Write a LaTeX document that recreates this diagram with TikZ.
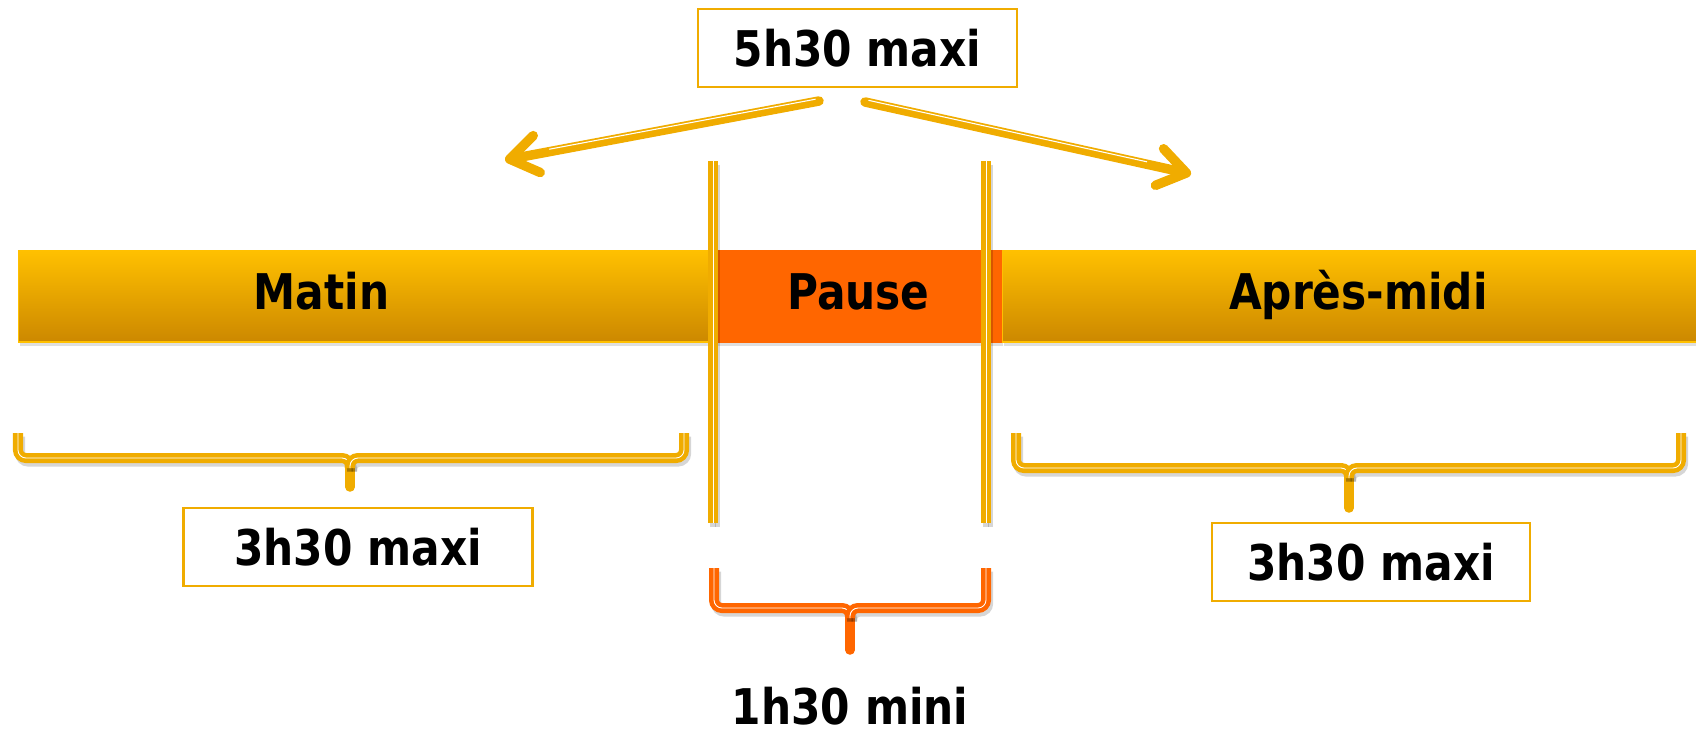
\documentclass[tikz,border=0pt]{standalone}
\usepackage{fontspec}
\newfontfamily\labfont[FakeStretch=0.86]{DejaVu Sans Bold}
\usepackage{tikz}
\usetikzlibrary{arrows.meta,positioning,shadows}
\usepackage{xcolor}
\definecolor{tlgold}{RGB}{240,172,0}
\definecolor{tltop}{RGB}{255,192,0}
\definecolor{tlbottom}{RGB}{204,136,0}
\definecolor{tlorange}{RGB}{255,102,0}
\tikzstyle{lineshadow} = [preaction={draw=black, opacity=0.16, transform canvas={shift={(1.2pt,-2pt)}}}]
\tikzstyle{dblshadow} = [preaction={draw=black, double=black, opacity=0.16, transform canvas={shift={(1.2pt,-2pt)}}}]
\tikzstyle{barseg} = [rectangle, minimum height=1.82cm, inner sep=0pt, draw=tltop, line width=0.6pt, top color=tltop, bottom color=tlbottom, drop shadow={opacity=0.25, shadow xshift=1pt, shadow yshift=-2.5pt}]
\tikzstyle{bartext} = [inner sep=0pt, anchor=base]
\tikzstyle{timebox} = [rectangle, draw=tlgold, line width=1.2pt, fill=white, minimum height=1.56cm, inner sep=0pt]
\tikzstyle{bigarrow} = [lineshadow, draw=tlgold, line width=5.4pt, line cap=round, -{Straight Barb[length=0.55cm, width=0.75cm, line cap=round, line join=round]}]
\tikzstyle{shine} = [draw=white, line width=0.6pt, transform canvas={yshift=1.4pt}]
\tikzstyle{divline} = [dblshadow, draw=tlgold, double=white, double distance=0.5pt, line width=2.6pt]
\tikzstyle{brace} = [dblshadow, draw=tlgold, double=white, double distance=0.5pt, line width=2.6pt, rounded corners=0.16cm]
\tikzstyle{bracetip} = [lineshadow, draw=tlgold, line width=5.4pt, line cap=round]

\begin{document}
\begin{tikzpicture}[x=0.02cm, y=-0.02cm, node distance=0pt, font=\labfont\fontsize{28}{30}\selectfont]
\useasboundingbox (0,0) rectangle (1696,734);

\node[barseg, minimum width=13.88cm, anchor=west] (matin) at (18,296.5) {};
\node[barseg, minimum width=5.76cm, right=0pt of matin, top color=tlorange, bottom color=tlorange, draw=tlorange] (pause) {};
\node[barseg, minimum width=13.92cm, right=0pt of pause] (apres) {};

\node[bartext] (matintxt) at ([xshift=-0.88cm, yshift=-0.25cm]matin.center) {Matin};
\node[bartext] (pausetxt) at ([xshift=0.02cm, yshift=-0.25cm]pause.center) {Pause};
\node[bartext] (aprestxt) at ([xshift=0.16cm, yshift=-0.25cm]apres.center) {Après-midi};

\draw[divline] (713,161) -- (713,523);
\draw[divline] (986,161) -- (986,523);

\node[timebox, minimum width=6.38cm] (maxday) at (857.5,48) {5h30 maxi};
\coordinate (ls) at ([shift={(-38.5,53)}]maxday.center);
\coordinate (rs) at ([shift={(7.5,54)}]maxday.center);
\coordinate (lt) at (505,160);
\coordinate (rt) at (1191,174);
\draw[bigarrow] (ls) -- (lt);
\draw[bigarrow] (rs) -- (rt);
\draw[shine, shorten >=0.9cm, shorten <=2pt] (ls) -- (lt);
\draw[shine, shorten >=0.9cm, shorten <=2pt] (rs) -- (rt);

\draw[bracetip] (350,462) -- (350,487);
\draw[brace] (18,433) |- (350,458) -- (350,468);
\draw[brace] (684,433) |- (350,458) -- (350,468);
\node[timebox, minimum width=6.98cm] (maxmorning) at (358,547) {3h30 maxi};

\draw[bracetip] (1349,472) -- (1349,508);
\draw[brace] (1016,433) |- (1349,468) -- (1349,478);
\draw[brace] (1681,433) |- (1349,468) -- (1349,478);
\node[timebox, minimum width=6.36cm] (maxafter) at (1371,562) {3h30 maxi};

\draw[bracetip, draw=tlorange] (850,612) -- (850,650);
\draw[brace, draw=tlorange] (714,568) |- (850,608) -- (850,618);
\draw[brace, draw=tlorange] (986,568) |- (850,608) -- (850,618);
\node[bartext] (minpause) at (850,724) {1h30 mini};
\end{tikzpicture}
\end{document}
